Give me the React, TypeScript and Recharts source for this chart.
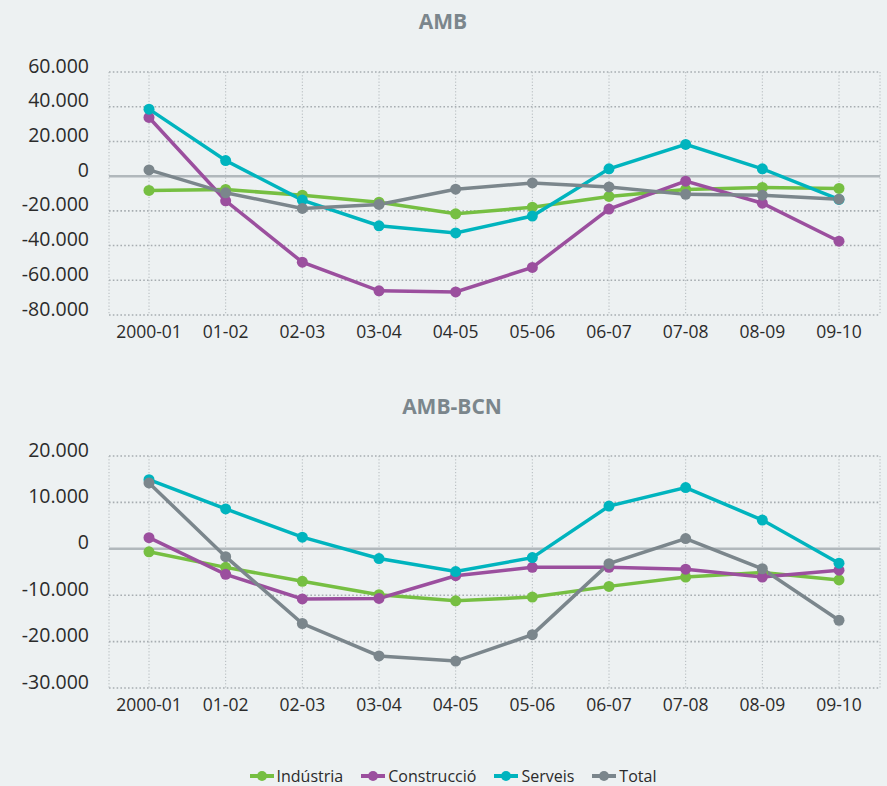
import { LineChart, Line, XAxis, YAxis, CartesianGrid, ReferenceLine } from "recharts";

const categories = ["2000-01", "01-02", "02-03", "03-04", "04-05", "05-06", "06-07", "07-08", "08-09", "09-10"];

// AMB
const ambIndustria = [-8200, -7700, -11000, -15000, -21700, -17900, -11700, -7700, -6500, -7100];
const ambConstruccio = [33800, -14200, -49600, -66100, -66700, -52600, -19000, -2900, -15600, -37500];
const ambServeis = [38600, 9000, -13800, -28600, -32700, -23000, 4200, 18300, 4200, -13400];
const ambTotal = [3600, -9600, -18600, -16300, -7500, -3900, -6200, -10500, -11000, -13300];

// AMB-BCN
const bcnIndustria = [-650, -4000, -7000, -9900, -11200, -10400, -8100, -6100, -5100, -6700];
const bcnConstruccio = [2400, -5500, -10800, -10700, -5800, -4000, -4000, -4400, -6100, -4600];
const bcnServeis = [14900, 8600, 2500, -2100, -4900, -1900, 9200, 13200, 6200, -3100];
const bcnTotal = [14200, -1700, -16100, -23100, -24200, -18500, -3200, 2200, -4300, -15400];

const ambTicks = [-80000, -60000, -40000, -20000, 0, 20000, 40000, 60000];
const bcnTicks = [-30000, -20000, -10000, 0, 10000, 20000];

const series = [
  { key: "industria", name: "Indústria", color: "#76bf42" },
  { key: "construccio", name: "Construcció", color: "#9b4f9e" },
  { key: "serveis", name: "Serveis", color: "#00b4be" },
  { key: "total", name: "Total", color: "#7b868c" },
];

const FONT = "'Open Sans', 'Noto Sans', sans-serif";

const buildRows = (ind: number[], con: number[], ser: number[], tot: number[]) =>
  categories.map((cat, i) => ({
    cat,
    industria: ind[i],
    construccio: con[i],
    serveis: ser[i],
    total: tot[i],
  }));

const ambData = buildRows(ambIndustria, ambConstruccio, ambServeis, ambTotal);
const bcnData = buildRows(bcnIndustria, bcnConstruccio, bcnServeis, bcnTotal);

function fmt(v: number) {
  const s = String(Math.abs(v)).replace(/\B(?=(\d{3})+(?!\d))/g, ".");
  return v < 0 ? "-" + s : s;
}

const YTick = (props: any) => {
  const { x, y, payload } = props;
  return (
    <text x={x} y={y + 0.5} textAnchor="end" fontSize={19.5} fill="#2b2b2b" fontFamily={FONT}>
      {fmt(payload.value)}
    </text>
  );
};

const XTick = (props: any) => {
  const { x, y, payload } = props;
  return (
    <text x={x} y={y + 23} textAnchor="middle" fontSize={17.5} fill="#2b2b2b" fontFamily={FONT}>
      {payload.value}
    </text>
  );
};

function Panel({ data, ticks, margin }: { data: any[]; ticks: number[]; margin: any }) {
  return (
    <LineChart width={887} height={345} data={data} margin={margin}>
      <CartesianGrid vertical={false} stroke="#a7adb1" strokeWidth={1.6} strokeDasharray="1.6 2.2" />
      <CartesianGrid horizontal={false} stroke="#b4babd" strokeWidth={1} strokeDasharray="1.2 2" />
      <XAxis
        dataKey="cat"
        axisLine={false}
        tickLine={false}
        tickSize={0}
        tickMargin={0}
        interval={0}
        height={30}
        padding={{ left: 40, right: 41 }}
        tick={<XTick />}
      />
      <YAxis
        type="number"
        domain={[ticks[0], ticks[ticks.length - 1]]}
        ticks={ticks}
        axisLine={false}
        tickLine={false}
        tickSize={0}
        tickMargin={20}
        width={109}
        tick={<YTick />}
      />
      <ReferenceLine y={0} stroke="#b1b8bc" strokeWidth={2.5} />
      {series.map((s) => (
        <Line
          key={s.key}
          type="linear"
          dataKey={s.key}
          name={s.name}
          stroke={s.color}
          strokeWidth={3.5}
          dot={{ r: 5.5, fill: s.color, stroke: "none" }}
          activeDot={false}
          isAnimationActive={false}
        />
      ))}
    </LineChart>
  );
}

export default function App() {
  return (
    <div
      style={{
        position: "relative",
        width: 887,
        height: 786,
        background: "#edf1f2",
        fontFamily: FONT,
        overflow: "hidden",
      }}
    >
      <style>{`body{margin:0}`}</style>
      <div style={{ position: "absolute", left: 0, top: 0 }}>
        <Panel data={ambData} ticks={ambTicks} margin={{ top: 72, right: 7, bottom: 0, left: 0 }} />
      </div>
      <div style={{ position: "absolute", left: 0, top: 380 }}>
        <Panel data={bcnData} ticks={bcnTicks} margin={{ top: 76, right: 7, bottom: 7, left: 0 }} />
      </div>
      <svg width={887} height={786} style={{ position: "absolute", left: 0, top: 0, pointerEvents: "none" }}>
        <text x={443} y={28.5} textAnchor="middle" fontSize={21} fontWeight={700} fill="#7b868c" fontFamily={FONT}>
          AMB
        </text>
        <text x={452} y={414} textAnchor="middle" fontSize={21} fontWeight={700} fill="#7b868c" fontFamily={FONT}>
          AMB-BCN
        </text>
      </svg>
      <div
        style={{
          position: "absolute",
          left: 0,
          top: 768,
          width: 906,
          height: 16,
          display: "flex",
          justifyContent: "center",
          alignItems: "center",
          gap: 18,
          fontSize: 16,
          lineHeight: "16px",
          color: "#2b2b2b",
        }}
      >
        {series.map((s) => (
          <div key={s.key} style={{ display: "flex", alignItems: "center", gap: 3 }}>
            <svg width={24} height={12}>
              <line x1={0} y1={6} x2={24} y2={6} stroke={s.color} strokeWidth={4} />
              <circle cx={12} cy={6} r={5} fill={s.color} />
            </svg>
            <span>{s.name}</span>
          </div>
        ))}
      </div>
    </div>
  );
}
